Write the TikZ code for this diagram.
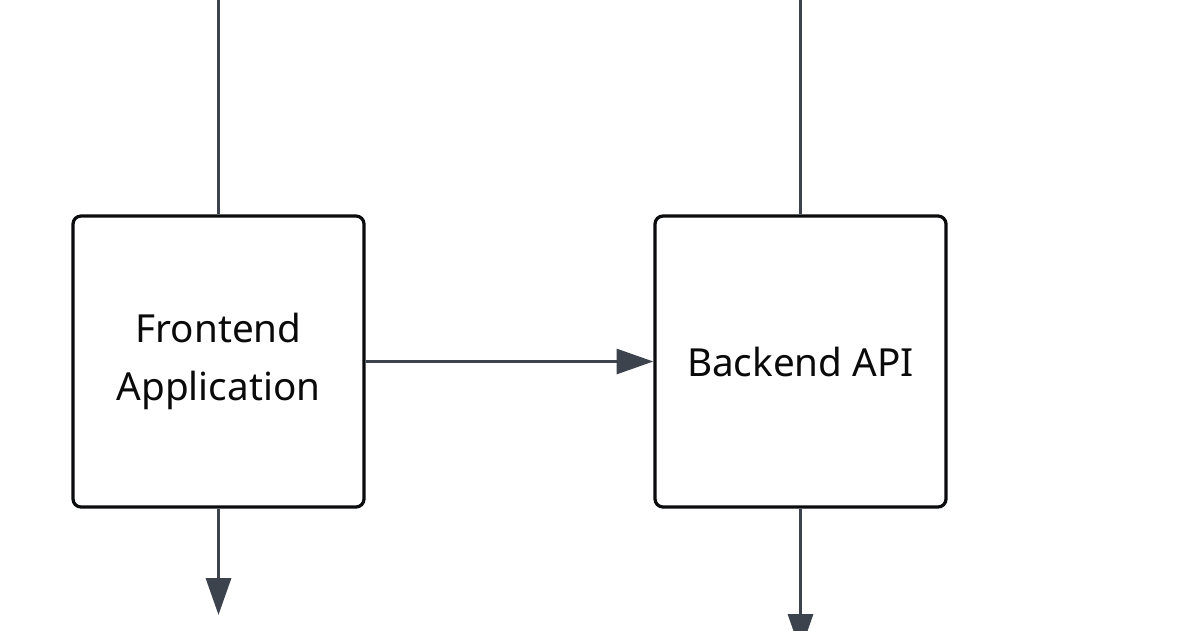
\documentclass[tikz,border=0pt]{standalone}
\usepackage{fontspec}
\setmainfont{Noto Sans}
\usepackage{xcolor}
\usepackage{tikz}
\usetikzlibrary{arrows.meta}
\definecolor{FAEdge}{HTML}{0B0C0E}
\definecolor{FALink}{HTML}{3C434D}
\definecolor{FAText}{HTML}{0A0A0A}
\tikzset{
  fabox/.style={draw=FAEdge,line width=2.3pt,rounded corners=0.2cm,fill=white,
    minimum width=7.275cm,minimum height=7.275cm,inner sep=0pt,align=center,
    font=\fontsize{27.5}{41}\selectfont,text=FAText},
  falink/.style={draw=FALink,line width=2.5pt},
  faarrow/.style={falink,-{Triangle[length=0.92cm,width=0.62cm]}}
}

\begin{document}
\begin{tikzpicture}[x=1cm,y=1cm]
\path[use as bounding box] (0,0) rectangle (30,15.75);
\fill[white] (0,0) rectangle (30,15.75);
\node[fabox] (front) at (5.4625,6.7125) {\raisebox{-0.1cm}{\parbox{6cm}{\centering Frontend\\Application}}};
\node[fabox] (back) at (20.0125,6.7125) {Backend API};
\coordinate (frontIn) at (5.4625,15.75);
\coordinate (backIn) at (20.0125,15.75);
\coordinate (frontOut) at (5.4625,0.375);
\coordinate (backOut) at (20.0125,-0.525);
\draw[falink] (frontIn) -- (front.north);
\draw[falink] (backIn) -- (back.north);
\draw[faarrow] (front.east) -- (back.west);
\draw[faarrow] (front.south) -- (frontOut);
\draw[faarrow] (back.south) -- (backOut);
\end{tikzpicture}
\end{document}
